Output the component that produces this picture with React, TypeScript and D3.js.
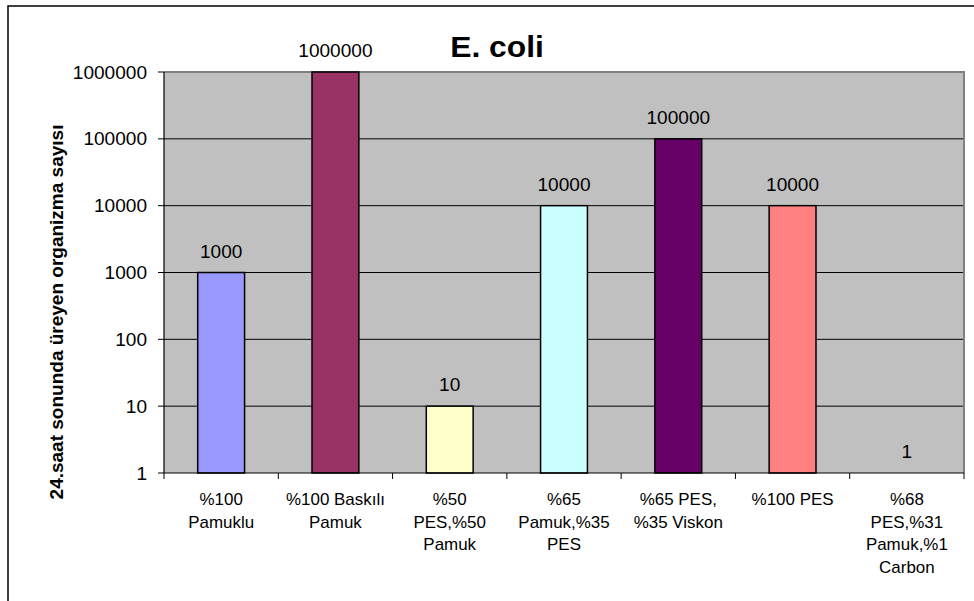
import React from "react";
import * as d3 from "d3";

// Bacterial counts after 24 hours for each fabric type
const categories: string[][] = [
  ["%100", "Pamuklu"],
  ["%100 Baskılı", "Pamuk"],
  ["%50", "PES,%50", "Pamuk"],
  ["%65", "Pamuk,%35", "PES"],
  ["%65 PES,", "%35 Viskon"],
  ["%100 PES"],
  ["%68", "PES,%31", "Pamuk,%1", "Carbon"],
];
const counts: number[] = [1000, 1000000, 10, 10000, 100000, 10000, 1];
const barColors: string[] = ["#9999FF", "#993366", "#FFFFCC", "#CCFFFF", "#660066", "#FF8080", "#FFFFFF"];
const yTicks: number[] = [1, 10, 100, 1000, 10000, 100000, 1000000];

const title = "E. coli";
const yTitle = "24.saat sonunda üreyen organizma sayısı";

const W = 974;
const H = 601;
const plot = { left: 164, top: 72, right: 964, bottom: 473 };
const FONT = "'Liberation Sans', Arial, sans-serif";
const SX = 1.06; // slight horizontal widening of the glyphs

export default function App() {
  const x = d3
    .scaleBand<number>()
    .domain(d3.range(categories.length))
    .range([plot.left, plot.right])
    .padding(0);
  const y = d3.scaleLog().domain([1, 1000000]).range([plot.bottom, plot.top]);
  const bw = x.bandwidth() * 0.41;

  const txt = (
    key: string | number,
    tx: number,
    ty: number,
    s: string,
    size: number,
    anchor: "start" | "middle" | "end",
    weight: string | number = "normal"
  ) => (
    <g key={key} transform={`translate(${tx},${ty}) scale(${SX},1)`}>
      <text fontFamily={FONT} fontSize={size} fontWeight={weight} textAnchor={anchor} fill="#000">
        {s}
      </text>
    </g>
  );

  return (
    <svg
      width={W}
      height={H}
      style={{ position: "absolute", left: 0, top: 0, background: "#fff" }}
    >
      {/* chart frame */}
      <rect x={8} y={6} width={1000} height={700} fill="#fff" stroke="#000" strokeWidth={1.5} />

      {/* plot background */}
      <rect
        x={plot.left}
        y={plot.top}
        width={plot.right - plot.left}
        height={plot.bottom - plot.top}
        fill="#C0C0C0"
      />

      {/* gridlines */}
      {yTicks.slice(1, -1).map((t) => (
        <line key={t} x1={plot.left} x2={plot.right} y1={y(t)} y2={y(t)} stroke="#000" strokeWidth={1} />
      ))}

      {/* plot border (top/right) */}
      <path
        d={`M${plot.left},${plot.top}H${plot.right}V${plot.bottom}`}
        fill="none"
        stroke="#808080"
        strokeWidth={2}
      />

      {/* bars */}
      {counts.map((v, i) => {
        const cx = (x(i) as number) + x.bandwidth() / 2;
        const top = y(v);
        return (
          <rect
            key={i}
            x={cx - bw / 2}
            y={top}
            width={bw}
            height={plot.bottom - top}
            fill={barColors[i]}
            stroke="#000"
            strokeWidth={1.5}
          />
        );
      })}

      {/* value labels */}
      {counts.map((v, i) => {
        const cx = (x(i) as number) + x.bandwidth() / 2;
        return txt(`v${i}`, cx, y(v) - 15, String(v), 18, "middle");
      })}

      {/* y axis */}
      <line x1={plot.left} x2={plot.left} y1={plot.top} y2={plot.bottom} stroke="#000" strokeWidth={1.2} />
      {yTicks.map((t) => (
        <g key={t}>
          <line x1={plot.left - 6} x2={plot.left} y1={y(t)} y2={y(t)} stroke="#000" strokeWidth={1} />
          {txt(`t${t}`, 147, y(t) + 6.5, String(t), 18, "end")}
        </g>
      ))}

      {/* x axis */}
      <line x1={plot.left} x2={plot.right} y1={plot.bottom} y2={plot.bottom} stroke="#000" strokeWidth={1.2} />
      {d3.range(categories.length + 1).map((i) => {
        const xx = i < categories.length ? (x(i) as number) : plot.right;
        return <line key={i} x1={xx} x2={xx} y1={plot.bottom} y2={plot.bottom + 6} stroke="#000" strokeWidth={1} />;
      })}
      {categories.map((lines, i) => {
        const cx = (x(i) as number) + x.bandwidth() / 2;
        return lines.map((ln, j) => txt(`c${i}-${j}`, cx, 505 + j * 22.5, ln, 16, "middle"));
      })}

      {/* titles */}
      {txt("title", 497, 57, title, 30, "middle", "bold")}
      <text
        transform={`translate(63,312) rotate(-90)`}
        fontFamily={FONT}
        fontSize={19}
        fontWeight="bold"
        textAnchor="middle"
        fill="#000"
      >
        {yTitle}
      </text>
    </svg>
  );
}
